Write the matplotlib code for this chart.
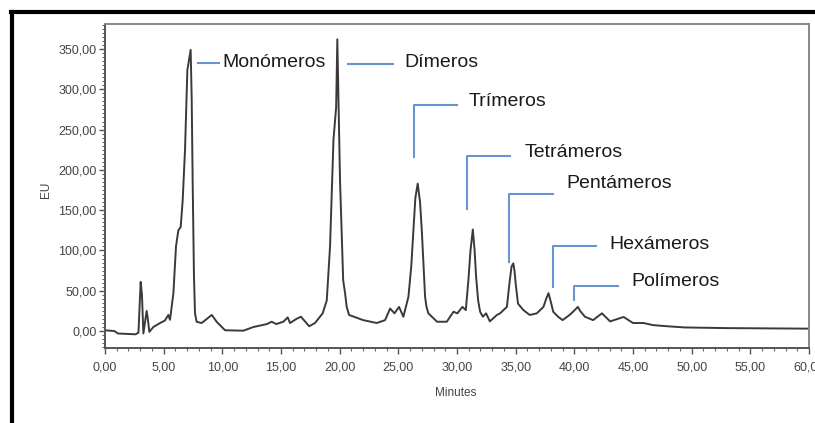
import matplotlib
matplotlib.use('Agg')
import matplotlib.pyplot as plt
from matplotlib import font_manager
from matplotlib.lines import Line2D
from matplotlib.ticker import MultipleLocator, FuncFormatter

# chromatogram trace (minutes, EU)
minutes = [0.0, 0.8, 1.1, 2.6, 2.85, 3.04, 3.15, 3.27, 3.4, 3.55, 3.65, 3.78,
           4.12, 4.69, 5.1, 5.4, 5.54, 5.83, 6.05, 6.25, 6.45, 6.62, 6.82, 7.02,
           7.2, 7.3, 7.39, 7.47, 7.58, 7.67, 7.81, 8.24, 8.67, 9.1, 9.52, 10.23, 11.8,
           12.64, 13.8, 14.2, 14.6, 15.2, 15.57, 15.77, 16.3, 16.7, 17.4, 17.9,
           18.55, 18.9, 19.18, 19.47, 19.7, 19.8, 19.9, 20.03, 20.3, 20.46, 20.6,
           20.8, 21.17, 22.0, 23.16, 23.87, 24.3, 24.67, 25.06, 25.43, 25.86, 26.1,
           26.29, 26.45, 26.65, 26.85, 27.0, 27.15, 27.28, 27.4, 27.56, 28.3, 29.13,
           29.7, 30.03, 30.46, 30.75, 30.97, 31.15, 31.35, 31.5, 31.63, 31.8, 31.97,
           32.2, 32.48, 32.8, 33.4, 33.67, 34.25, 34.5, 34.65, 34.8, 34.9, 35.0, 35.2,
           35.66, 36.2, 36.8, 37.37, 37.6, 37.8, 38.0, 38.2, 38.6, 39.0, 39.6, 40.1,
           40.3, 40.5, 40.9, 41.6, 42.35, 43.05, 44.2, 45.0, 45.9, 46.7, 47.9, 49.4,
           52.9, 60.0]
eu = [1, 0, -3, -4, -2, 61, 45, -3, 10, 25, 15, -1,
      5, 10, 13, 20, 14, 47, 105, 125, 129, 162, 225, 324,
      340, 349, 287, 187, 70, 22, 11.5, 10, 15, 20, 11.5, 1, 0.5,
      5, 8.7, 11.6, 8.7, 11.6, 17, 10, 15, 17.8, 6, 10,
      22, 38, 105, 237, 278, 362, 283, 187, 63, 47, 30,
      20, 18, 13.6, 10, 13.6, 28, 22, 30, 17.8, 42.5, 80,
      125, 165, 183, 160, 125, 80, 42.5, 30, 22, 11.6, 11.6,
      24, 22, 30, 26, 63, 100, 126, 100, 67, 38, 24,
      17.8, 22, 12, 20, 22, 30, 63, 80, 84, 75, 59, 34,
      26, 20, 22, 30, 40, 47, 36, 24, 18, 13.6, 20, 27,
      30, 25, 17.8, 13.6, 22, 12, 17.5, 10, 10, 7.4, 6, 4.5,
      3.7, 3]

# peak labels with their blue leader lines
labels = ['Monómeros', 'Dímeros', 'Trímeros', 'Tetrámeros', 'Pentámeros', 'Hexámeros', 'Polímeros']
lead_x0 = [7.93, 20.74, 26.34, 30.83, 34.47, 38.16, 40.0]
lead_x1 = [9.72, 24.53, 29.98, 34.5, 38.2, 41.86, 43.76]
lead_y = [332, 331, 280, 217, 170, 105, 56]
lead_drop = [None, None, 216, 151, 86, 55, 39]
text_x = [9.97, 25.5, 30.97, 35.8, 39.36, 43.0, 44.9]
text_y = [333, 333, 285, 222, 183, 108, 61]

names = {f.name for f in font_manager.fontManager.ttflist}
fams = [n for n in ['Liberation Sans Narrow', 'Arial Narrow', 'DejaVu Sans Condensed'] if n in names]
plt.rcParams['font.family'] = fams + ['Liberation Sans', 'DejaVu Sans']

fig = plt.figure(figsize=(8.15, 4.23), dpi=100)
ax = fig.add_axes([105 / 815, 75 / 423, 704 / 815, 324 / 423])

ax.plot(minutes, eu, color='#3a3a3a', lw=1.4)

blue = '#6895d0'
for i, lab in enumerate(labels):
    if lead_drop[i] is None:
        ax.plot([lead_x0[i], lead_x1[i]], [lead_y[i], lead_y[i]], color=blue, lw=1.5)
    else:
        ax.plot([lead_x0[i], lead_x0[i], lead_x1[i]], [lead_drop[i], lead_y[i], lead_y[i]],
                color=blue, lw=1.5)
    ax.text(text_x[i], text_y[i], lab, fontsize=14, color='#1a1a1a', va='center', ha='left')

ax.set_xlim(0, 60)
ax.set_ylim(-21, 381)
ax.xaxis.set_major_locator(MultipleLocator(5))
ax.xaxis.set_minor_locator(MultipleLocator(1))
ax.yaxis.set_major_locator(MultipleLocator(50))
ax.yaxis.set_minor_locator(MultipleLocator(5))
fmt = FuncFormatter(lambda v, p: f'{v:.2f}'.replace('.', ','))
ax.xaxis.set_major_formatter(fmt)
ax.yaxis.set_major_formatter(fmt)
ax.set_yticks([0, 50, 100, 150, 200, 250, 300, 350])

ax.tick_params(which='major', length=4, width=1, color='#555555', labelsize=9, labelcolor='#444444', pad=2)
ax.tick_params(which='minor', length=2, width=0.8, color='#666666')
ax.tick_params(axis='x', which='major', pad=6)

for s in ['left', 'bottom']:
    ax.spines[s].set_color('#555555')
    ax.spines[s].set_linewidth(1.4)
for s in ['top', 'right']:
    ax.spines[s].set_color('#888888')
    ax.spines[s].set_linewidth(1.4)

ax.set_xlabel('Minutes', fontsize=8.5, color='#444444')
ax.xaxis.set_label_coords(0.4986, -0.12)
ax.set_ylabel('EU', fontsize=8.5, color='#444444')
ax.yaxis.set_label_coords(-0.075, 0.488)

# thick frame around the picture (only left and top visible)
fig.add_artist(Line2D([12 / 815, 12 / 815], [0, 410.5 / 423], color='black', lw=3, transform=fig.transFigure))
fig.add_artist(Line2D([10.5 / 815, 1], [410.5 / 423, 410.5 / 423], color='black', lw=3, transform=fig.transFigure))

fig.savefig('out.png', dpi=100)
